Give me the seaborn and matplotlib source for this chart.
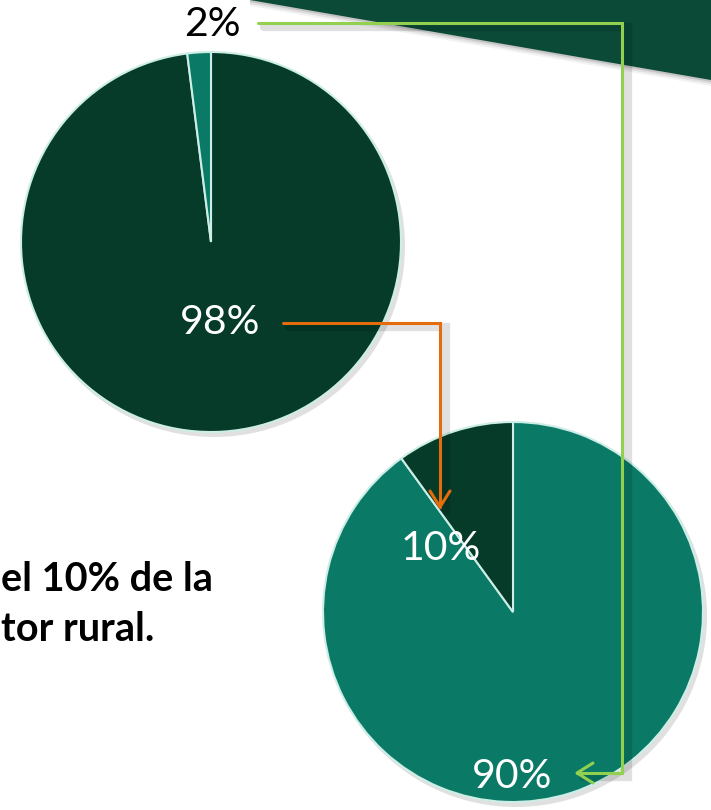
import numpy as np
import matplotlib.pyplot as plt
import matplotlib.patheffects as pe
from matplotlib.patches import Polygon, Circle
import seaborn as sns

sns.set_theme(style='white')
plt.rcParams['font.family'] = ['Lato', 'DejaVu Sans']

# data
total_shares = [98, 2]        # top pie: dark / teal
total_labels = ['98%', '2%']
rural_shares = [90, 10]       # bottom pie: teal / dark
rural_labels = ['90%', '10%']
text_lines = ['el 10% de la', 'tor rural.']

W, H = 711, 810
dark = '#053b28'
teal = '#0a7a66'
banner = '#0b4a37'
rim = '#cdeee6'
green = '#92d050'
orange = '#e46c0a'


def py(y):
    return H - y


fig = plt.figure(figsize=(W / 100, H / 100), dpi=100)
ax = fig.add_axes([0, 0, 1, 1])

# dark banner top right, with a soft shadow
for k, a in [(6, 0.05), (4, 0.08), (2, 0.12)]:
    ax.add_patch(Polygon([(250, py(0)), (711, py(0)), (711, py(80 + k)), (250, py(0 + k))],
                         closed=True, color='black', alpha=a, lw=0, zorder=1))
ax.add_patch(Polygon([(250, py(0)), (711, py(0)), (711, py(80)), (250, py(0))],
                     closed=True, color=banner, lw=0, zorder=2))

c1, r1 = (211, py(242)), 190
c2, r2 = (513, py(612)), 190

for c, r in [(c1, r1), (c2, r2)]:
    ax.add_patch(Circle((c[0] + 3, c[1] - 4), r + 1, color='black', alpha=0.12, lw=0, zorder=2))

ax.pie(total_shares, colors=[dark, teal], startangle=90, counterclock=False,
       center=c1, radius=r1, frame=True,
       wedgeprops=dict(edgecolor=rim, linewidth=1.5, zorder=3))
ax.pie(rural_shares, colors=[teal, dark], startangle=90, counterclock=False,
       center=c2, radius=r2, frame=True,
       wedgeprops=dict(edgecolor=rim, linewidth=1.5, zorder=3))

lab_kw = dict(fontsize=29.5, ha='center', va='center', zorder=6)
ax.text(c1[0] + 1, c1[1] + 217, total_labels[1], color='black', **lab_kw)
ax.text(c1[0] + 9, c1[1] - 81, total_labels[0], color='white', **lab_kw)
ax.text(c2[0] - 72, c2[1] + 64, rural_labels[1], color='white', **lab_kw)
ax.text(c2[0] - 1, c2[1] - 164, rural_labels[0], color='white', **lab_kw)

shadow = [pe.SimpleLineShadow(offset=(4, -3), shadow_color='black', alpha=0.12, linewidth=6), pe.Normal()]

# green connector: 2% -> 90%
gx = [258, 622, 622, 577]
gy = [23, 23, 773, 773]
ax.plot(gx, [py(v) for v in gy], color=green, lw=2.2, zorder=5,
        solid_joinstyle='miter', path_effects=shadow)
ax.plot([593, 577, 593], [py(763), py(773), py(783)], color=green, lw=2.2, zorder=5)

# orange connector: 98% -> 10%
ox = [283, 440, 440]
oy = [323, 323, 507]
ax.plot(ox, [py(v) for v in oy], color=orange, lw=2.2, zorder=5,
        solid_joinstyle='miter', path_effects=shadow)
ax.plot([430, 440, 450], [py(491), py(507), py(491)], color=orange, lw=2.2, zorder=5)

# bold text at left edge
ax.text(1, py(591), text_lines[0], fontsize=28.5, fontweight='bold', color='black',
        ha='left', va='baseline', zorder=6)
ax.text(1, py(641), text_lines[1], fontsize=28.5, fontweight='bold', color='black',
        ha='left', va='baseline', zorder=6)

ax.set_xlim(0, W)
ax.set_ylim(0, H)
ax.set_aspect('auto')
ax.axis('off')

fig.savefig('out.png', dpi=100, facecolor='white')
